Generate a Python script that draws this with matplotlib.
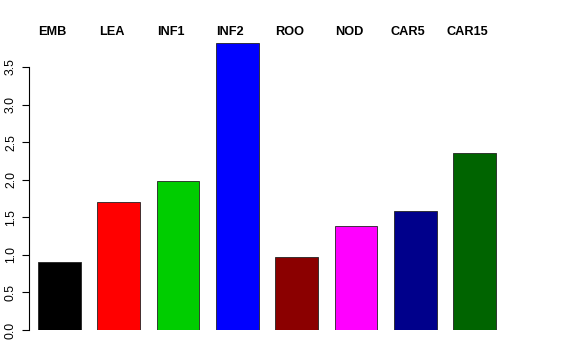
import matplotlib
matplotlib.use("Agg")
import matplotlib.pyplot as plt

# data
categories = ["EMB", "LEA", "INF1", "INF2", "ROO", "NOD", "CAR5", "CAR15"]
values = [0.91, 1.70, 1.98, 3.82, 0.97, 1.38, 1.58, 2.35]
colors = ["#000000", "#FF0000", "#00CD00", "#0000FF",
          "#8B0000", "#FF00FF", "#00008B", "#006400"]
yticks = [0.0, 0.5, 1.0, 1.5, 2.0, 2.5, 3.0, 3.5]

plt.rcParams['font.family'] = ['Liberation Sans', 'DejaVu Sans']

W, H = 576, 360
fig = plt.figure(figsize=(W / 100, H / 100), dpi=100)

# axes placed in pixel terms, like R's plot region
left_px, right_px, bottom_px, top_px = 29, 545, 330, 30
ax = fig.add_axes([left_px / W, (H - bottom_px) / H,
                   (right_px - left_px) / W, (bottom_px - top_px) / H])

unit = (330 - 67) / 3.5          # pixels per y unit
step = 59.3                      # pixels between bar centres
x0 = 59.5                        # first bar centre in pixels
ax.set_xlim((left_px - x0) / step, (right_px - x0) / step)
ax.set_ylim(0, (bottom_px - top_px) / unit)

xs = list(range(len(categories)))
ax.bar(xs, values, width=0.72, color=colors, edgecolor="#222222", linewidth=0.6)

for x, lab in zip(xs, categories):
    ax.text(x - 0.12, (bottom_px - 35) / unit, lab, ha="center", va="baseline",
            fontsize=9.2, fontweight="bold", clip_on=False)

ax.set_yticks(yticks)
ax.set_yticklabels([f"{t:.1f}" for t in yticks], rotation=90, ha="center",
                   va="center", fontsize=8.8)
ax.tick_params(axis="y", length=5, width=0.8, pad=8, colors="black")
ax.set_xticks([])
for s in ["top", "right", "bottom"]:
    ax.spines[s].set_visible(False)
ax.spines["left"].set_bounds(0, 3.5)
ax.spines["left"].set_linewidth(0.8)

fig.savefig("out.png", dpi=100)
